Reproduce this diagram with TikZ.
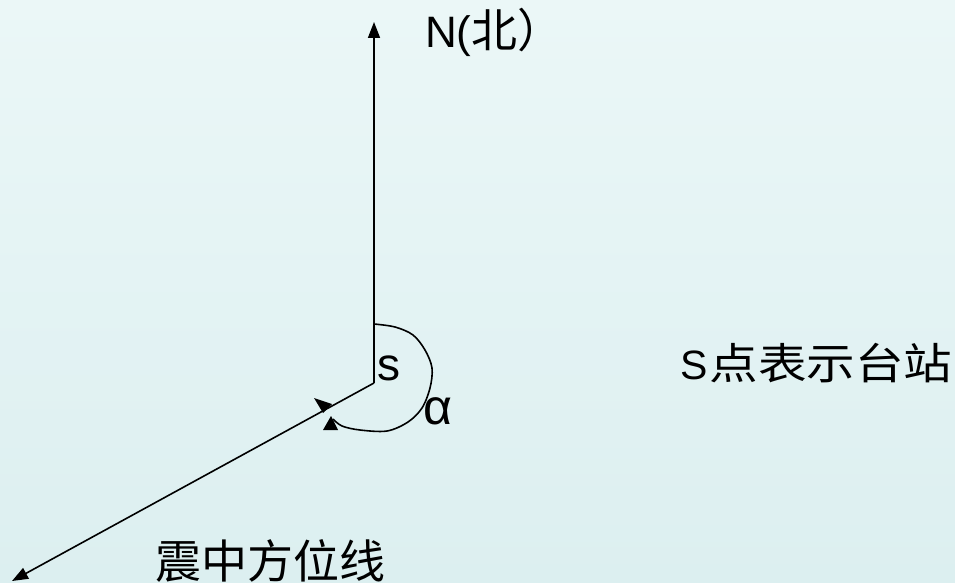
\documentclass[tikz,border=0pt]{standalone}
\usepackage{fontspec}
\setmainfont{Liberation Sans}
\newfontfamily\cjk{Noto Sans CJK SC}
\usetikzlibrary{arrows.meta}
\definecolor{bgtop}{RGB}{235,247,247}
\definecolor{bgbot}{RGB}{220,239,240}
\tikzset{
  ln/.style={line width=1.6pt, black},
  tip/.style={-{Triangle[length=16pt,width=12pt]}},
  lbl/.style={inner sep=0pt, anchor=base west},
}
\begin{document}
\begin{tikzpicture}[x=1pt,y=-1pt]
  \shade[top color=bgtop, bottom color=bgbot] (0,0) rectangle (955,583);
  \useasboundingbox (0,0) rectangle (955,583);
  % points
  \coordinate (S) at (374,383);
  \coordinate (Ntip) at (374,22);
  \coordinate (E) at (12,581);
  % axes
  \draw[ln,tip] (S) -- (Ntip);
  \draw[ln,tip] (S) -- (E);
  % azimuth arc
  \draw[ln] plot[smooth, tension=0.55] coordinates {(374,324) (395,327) (413,335) (425,350) (432,368) (430,388) (422,408) (408,422) (387,431) (360,430) (342,426) (333,419)};
  \fill (331,416) -- (323,430) -- (338,430) -- cycle;
  \fill (314,398) -- (323,413) -- (332,404) -- cycle;
  % labels
  \node[lbl, font=\fontsize{44}{48}\selectfont] (nlab) at (425,48) {N(\cjk\fontsize{46}{48}\selectfont 北）};
  \node[lbl, font=\fontsize{46}{50}\selectfont] (slab) at (377,380) {s};
  \node[lbl, font=\fontsize{50}{54}\selectfont] (alab) at (423,424) {α};
  \node[lbl, font=\fontsize{41}{44}\selectfont] (stlab) at (680,379) {S\hspace{2pt}\scalebox{1.13}[1]{\cjk\fontsize{43}{46}\selectfont 点表示台站}};
  \node[lbl, font=\cjk\fontsize{46}{50}\selectfont] (elab) at (155,578) {震中方位线};
\end{tikzpicture}
\end{document}
